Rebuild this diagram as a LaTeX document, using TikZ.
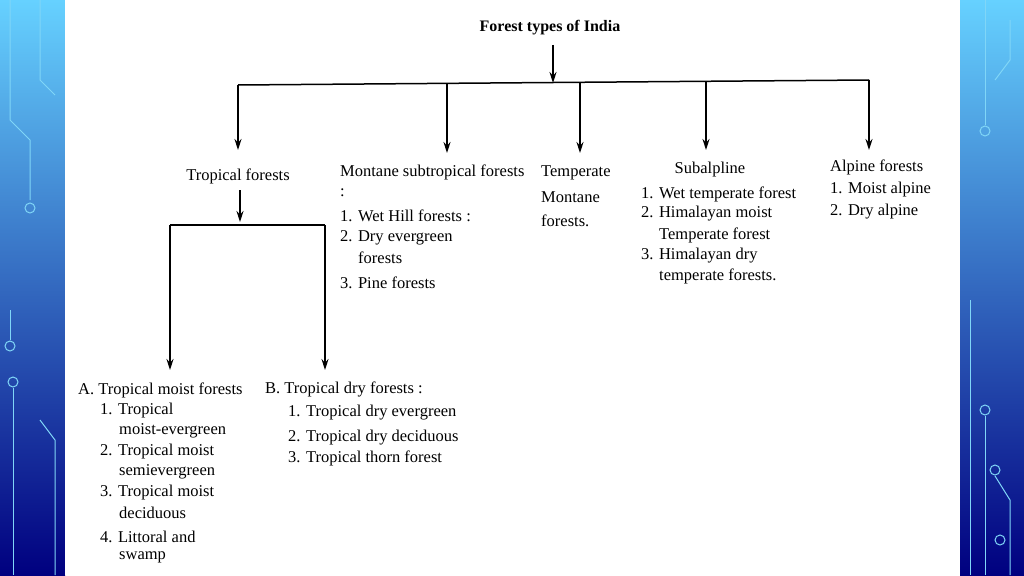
\documentclass[tikz,border=0pt]{standalone}
\usepackage{fontspec}
\setmainfont{Liberation Serif}
\usetikzlibrary{arrows.meta}
\begin{document}
\begin{tikzpicture}[x=1pt,y=-1pt,
  txt/.style={anchor=west,inner sep=0pt,font=\fontsize{16.5}{18}\selectfont},
  arr/.style={-{Stealth[length=11pt,width=7pt]},line width=1.5pt},
  ln/.style={line width=1.5pt},
  circ/.style={draw=cyan!50!white,line width=1pt}]
\useasboundingbox (0,0) rectangle (1024,575);
\shade[top color=cyan!70!blue!60,bottom color=blue!50!black] (0,0) rectangle (65,575);
\shade[top color=cyan!70!blue!60,bottom color=blue!50!black] (960,0) rectangle (1024,575);
\fill[white] (65,0) rectangle (960,575);
% circuit decoration
\draw[circ] (10,0) -- (10,120) -- (30,140) -- (30,200);
\draw[circ] (30,208) circle (5);
\draw[circ] (40,0) -- (40,80) -- (55,95);
\draw[circ] (10,310) -- (10,340); \draw[circ] (10,346) circle (5);
\draw[circ] (13,382) circle (5); \draw[circ] (13,388) -- (13,575);
\draw[circ] (40,420) -- (55,440) -- (55,575);
\draw[circ] (985,0) -- (985,125); \draw[circ] (985,131) circle (5);
\draw[circ] (1010,20) -- (1010,60) -- (995,80);
\draw[circ] (985,410) circle (5); \draw[circ] (985,416) -- (985,575);
\draw[circ] (995,470) circle (5); \draw[circ] (995,476) -- (1010,500) -- (1010,575);
\draw[circ] (1000,540) circle (5);
\draw[circ] (970,300) -- (970,575);
% title
\node[txt,anchor=center,font=\fontsize{16}{18}\selectfont\bfseries] (title) at (550,28) {Forest types of India};
\coordinate (top) at (553,45);
\coordinate (hub) at (553,83);
\draw[arr] (top) -- (hub);
\coordinate (hl) at (238,85); \coordinate (hr) at (869,80);
\draw[ln] (hl) -- (hr);
\node[txt,anchor=center] (trop) at (238,176) {Tropical forests};
\node[txt] (mont) at (340,172) {Montane subtropical forests};
\node[txt] (temp) at (541,173) {Temperate};
\node[txt,anchor=center] (sub) at (710,170) {Subalpline};
\node[txt] (alp) at (830,167) {Alpine forests};
\coordinate (a1) at (238,150); \coordinate (a2) at (447,153); \coordinate (a3) at (580,153);
\coordinate (a4) at (706,150); \coordinate (a5) at (869,150);
\draw[arr] (238,85) -- (a1);
\draw[arr] (447,84) -- (a2);
\draw[arr] (580,83) -- (a3);
\draw[arr] (706,82) -- (a4);
\draw[arr] (869,80) -- (a5);
% montane list
\node[txt] at (340,193) {:};
\node[txt] at (340,216) {1. Wet Hill forests :};
\node[txt] at (340,238) {2. Dry evergreen};
\node[txt] at (358,258) {forests};
\node[txt] at (340,283) {3. Pine forests};
\node[txt] at (541,197) {Montane};
\node[txt] at (541,221) {forests.};
\node[txt] at (641,194) {1. Wet temperate forest};
\node[txt] at (641,214) {2. Himalayan moist};
\node[txt] at (659,235) {Temperate forest};
\node[txt] at (641,256) {3. Himalayan dry};
\node[txt] at (659,276) {temperate forests.};
\node[txt] at (830,190) {1. Moist alpine};
\node[txt] at (830,212) {2. Dry alpine};
% tropical subtree
\coordinate (tb) at (240,190); \coordinate (tj) at (240,222);
\draw[arr] (tb) -- (tj);
\coordinate (sl) at (170,225); \coordinate (sr) at (325,225);
\draw[ln] (sl) -- (sr);
\coordinate (da) at (170,370); \coordinate (db) at (325,370);
\draw[arr] (sl) -- (da);
\draw[arr] (sr) -- (db);
\node[txt] (A) at (78,390) {A. Tropical moist forests};
\node[txt] at (100,411) {1. Tropical};
\node[txt] at (119,431) {moist-evergreen};
\node[txt] at (100,452) {2. Tropical moist};
\node[txt] at (119,472) {semievergreen};
\node[txt] at (100,493) {3. Tropical moist};
\node[txt] at (119,513) {deciduous};
\node[txt] at (100,537) {4. Littoral and};
\node[txt] at (119,557) {swamp};
\node[txt] (B) at (265,389) {B. Tropical dry forests :};
\node[txt] at (288,413) {1. Tropical dry evergreen};
\node[txt] at (288,438) {2. Tropical dry deciduous};
\node[txt] at (288,458) {3. Tropical thorn forest};
\end{tikzpicture}
\end{document}
